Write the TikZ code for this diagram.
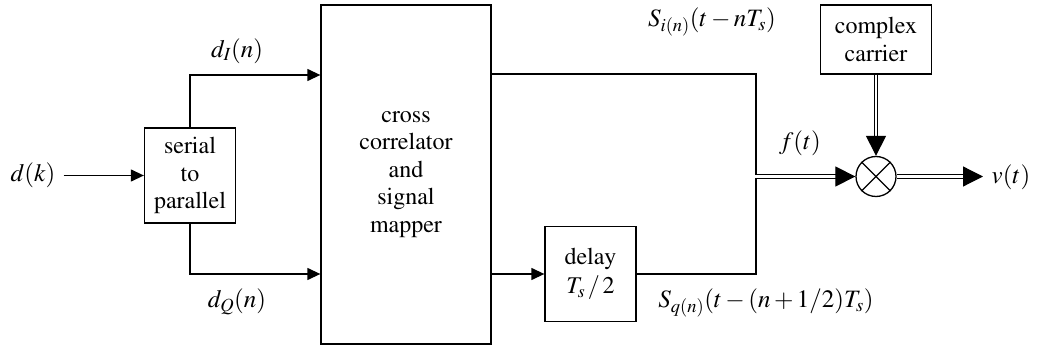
\documentclass[tikz,border=0pt]{standalone}
\usepackage{mathptmx}
\usetikzlibrary{arrows.meta}
\newcommand{\blkfont}{\fontencoding{OT1}\fontfamily{ptm}\fontsize{24}{27.5}\selectfont}
\tikzset{
  blk/.style={draw, line width=1.3pt, minimum width=#1, inner sep=0pt, align=center,
              font=\blkfont},
  lbl/.style={inner sep=0pt, font=\fontsize{25}{30}\selectfont},
  sig/.style={line width=1.3pt},
  arr/.style={sig, -{Triangle[length=13pt,width=12pt]}},
  dbl/.style={line width=1.2pt, double, double distance=2.2pt},
  darr/.style={dbl, -{Triangle[length=20pt,width=20pt]}},
}
\begin{document}
\begin{tikzpicture}[x=1pt,y=-1pt]
\useasboundingbox (0,0) rectangle (1037,347);

% blocks
\node[blk=91pt, minimum height=95pt] (s2p) at (190,175.5) {serial\\to\\parallel};
\node[blk=170pt, minimum height=339pt] (ccm) at (406,174.5) {cross\\correlator\\and\\signal\\mapper};
\node[blk=91pt, minimum height=95pt] (delay) at (590.5,274) {delay\\[2pt]$T_s\,/\,2$};
\node[blk=111pt, minimum height=69pt] (carrier) at (876,39.5) {complex\\carrier};
\node[draw, line width=1.3pt, circle, minimum size=40pt, inner sep=0pt] (mix) at (876,176.5) {};
\draw[line width=1.3pt] (mix.north west) -- (mix.south east)
                        (mix.north east) -- (mix.south west);

% signal labels
\node[lbl] (dk) at (33,175.5) {$d(k)$};
\node[lbl] (dI) at (237,51) {$d_I(n)$};
\node[lbl] (dQ) at (237,302) {$d_Q(n)$};
\node[lbl] (si) at (712,22) {$S_{i(n)}(t-nT_s)$};
\node[lbl] (sq) at (766,303) {$S_{q(n)}(t-(n+1/2)T_s)$};
\node[lbl] (ft) at (800,143) {$f(t)$};
\node[lbl] (vt) at (1011,177) {$v(t)$};

% junction where the two branches meet
\coordinate (join) at (756,176.5);
\coordinate (ju) at (756,175);
\coordinate (jd) at (756,178);

% connectors
\draw[arr] (dk.east) ++(8,0) -- (s2p.west);
\draw[arr] (s2p.north) |- (ccm.west |- 0,75);
\draw[arr] (s2p.south) |- (ccm.west |- delay.west);
\draw[sig] (ccm.east |- 0,74) -| (ju);
\draw[arr] (ccm.east |- delay.west) -- (delay.west);
\draw[sig] (delay.east) -| (jd);
\draw[darr] (join) -- (mix.west);
\draw[darr] (carrier.south) -- (mix.north);
\draw[darr] (mix.east) -- (983,176.5);
\end{tikzpicture}
\end{document}
